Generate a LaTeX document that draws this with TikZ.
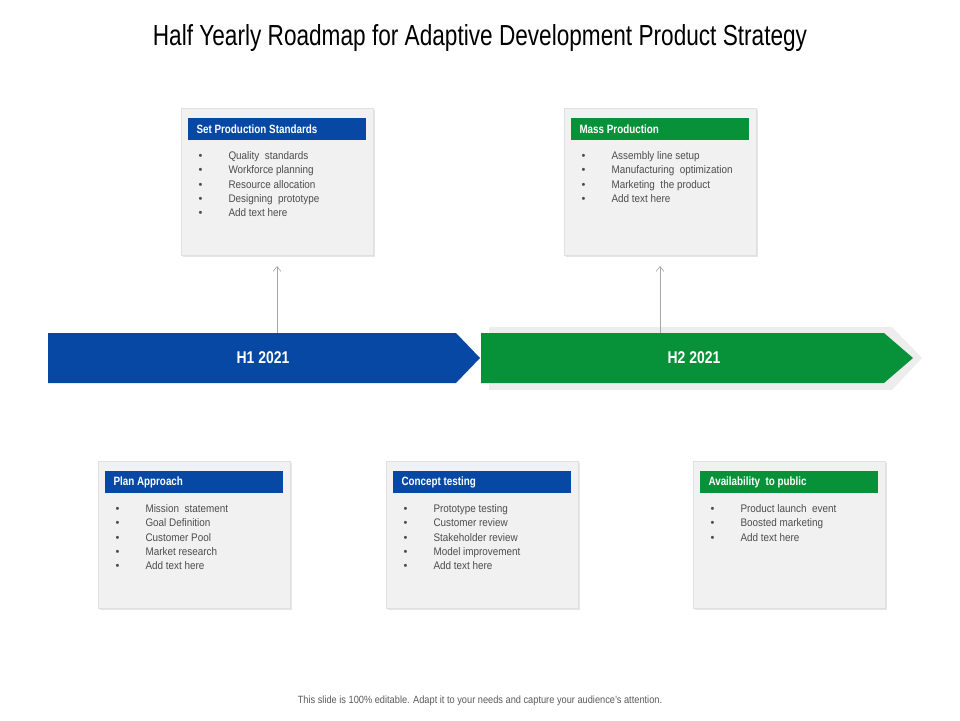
\documentclass[tikz,border=0pt]{standalone}
\usepackage{fontspec}
\setmainfont{Liberation Sans}
\usepackage{graphicx}
\definecolor{bblue}{HTML}{0648A4}
\definecolor{bgreen}{HTML}{07923A}
\definecolor{boxbg}{HTML}{F1F1F1}
\newcommand{\nar}[2][0.82]{\scalebox{#1}[1]{#2}}
\tikzset{
 card/.style={fill=boxbg, draw=black!12, line width=0.8pt},
 hdr/.style={anchor=west, text=white, font=\fontsize{12}{14}\selectfont\bfseries},
 lst/.style={anchor=north west, align=left, text=black!70, font=\fontsize{11}{14.3}\selectfont},
 up/.style={draw=black!35, line width=0.6pt, -{Straight Barb[length=5pt,width=8pt]}}
}
\usetikzlibrary{arrows.meta}
\newcommand{\card}[6]{%
 \fill[black!10] (#1+2,#2+2) rectangle (#1+194,#2+149);
 \path[card] (#1,#2) rectangle (#1+192,#2+147);
 \fill[#5] (#1+7,#2+10) rectangle (#1+185,#2+32);
 \node[hdr] (#6h) at (#1+12,#2+21) {\nar{#3}};
 \node[lst] (#6l) at (#1+14,#2+40) {#4};
}
\newcommand{\itm}[1]{\makebox[30pt][l]{\textbullet}\nar[0.9]{#1}\\}
\begin{document}
\begin{tikzpicture}[x=1pt,y=-1pt]
\useasboundingbox (0,0) rectangle (960,720);
\node (title) at (480,38) {\fontsize{29}{32}\selectfont\nar[0.78]{Half Yearly Roadmap for Adaptive Development Product Strategy}};
% arrows
\fill[black!7] (489,327) -- (892,327) -- (922,358) -- (892,390) -- (489,390) -- cycle;
\fill[bblue] (48,333) -- (456,333) -- (480,358) -- (456,383) -- (48,383) -- cycle;
\fill[bgreen] (481,333) -- (884,333) -- (913,358) -- (884,383) -- (481,383) -- cycle;
\node[text=white, font=\fontsize{17}{20}\selectfont\bfseries] (h1) at (263,358) {\nar{H1 2021}};
\node[text=white, font=\fontsize{17}{20}\selectfont\bfseries] (h2) at (694,358) {\nar{H2 2021}};
\coordinate (a1) at (277,333); \coordinate (b1) at (277,266);
\coordinate (a2) at (660,333); \coordinate (b2) at (660,266);
\draw[up] (a1) -- (b1);
\draw[up] (a2) -- (b2);
\card{181}{108}{Set Production Standards}{\itm{Quality\ \ standards}\itm{Workforce planning}\itm{Resource allocation}\itm{Designing\ \ prototype}\itm{Add text here}}{bblue}{c1}
\card{564}{108}{Mass Production}{\itm{Assembly line setup}\itm{Manufacturing\ \ optimization}\itm{Marketing\ \ the product}\itm{Add text here}}{bgreen}{c2}
\card{98}{461}{Plan Approach}{\itm{Mission\ \ statement}\itm{Goal Definition}\itm{Customer Pool}\itm{Market research}\itm{Add text here}}{bblue}{c3}
\fill[bgreen] (481,471) rectangle (571,493);
\card{386}{461}{Concept testing}{\itm{Prototype testing}\itm{Customer review}\itm{Stakeholder review}\itm{Model improvement}\itm{Add text here}}{bblue}{c4}
\card{693}{461}{Availability\ \ to public}{\itm{Product launch\ \ event}\itm{Boosted marketing}\itm{Add text here}}{bgreen}{c5}
\node[text=black!65, font=\fontsize{10.5}{12}\selectfont] (foot) at (480,701) {\nar[0.88]{This slide is 100\% editable. Adapt it to your needs and capture your audience's attention.}};
\end{tikzpicture}
\end{document}
